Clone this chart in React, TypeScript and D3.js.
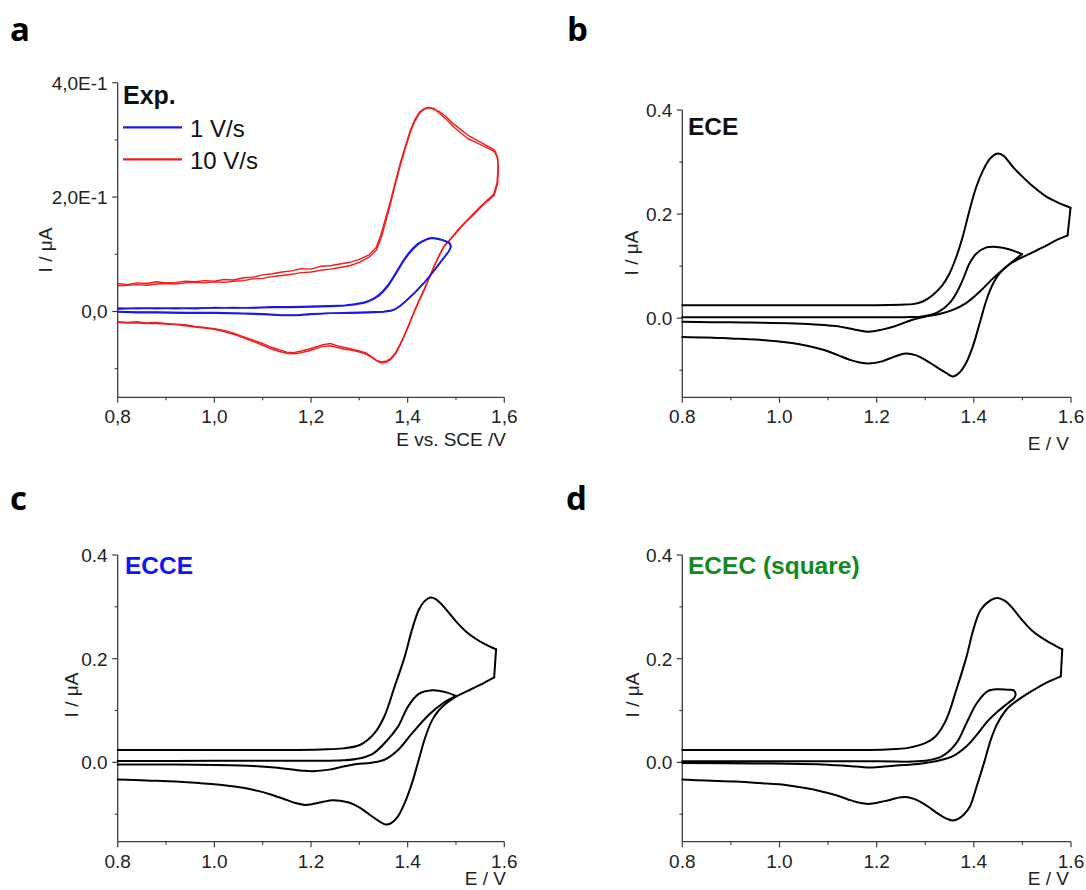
import React, { useEffect, useRef } from 'react';
import * as d3 from 'd3';

type P = [number, number];

const xMajor = [0.8, 1.0, 1.2, 1.4, 1.6];
const xMinor = [0.9, 1.1, 1.3, 1.5];
const yMajor = [0, 0.2, 0.4];
const yMinor = [-0.1, 0.1, 0.3];
const expXLabels = ['0,8', '1,0', '1,2', '1,4', '1,6'];
const expYLabels = ['0,0', '2,0E-1', '4,0E-1'];
const simXLabels = ['0.8', '1.0', '1.2', '1.4', '1.6'];
const simYLabels = ['0.0', '0.2', '0.4'];
const legendNames = ['1 V/s', '10 V/s'];

// ---------- panel a: experiment ----------
const red10a: P[] = [
  [0.80,0.049],[0.82,0.047],[0.84,0.050],[0.86,0.049],[0.88,0.052],[0.90,0.050],[0.92,0.051],[0.94,0.053],[0.96,0.052],[0.98,0.054],
  [1.00,0.053],[1.02,0.056],[1.04,0.055],[1.06,0.059],[1.08,0.060],[1.10,0.064],[1.12,0.066],[1.14,0.069],[1.16,0.071],[1.18,0.075],
  [1.20,0.074],[1.22,0.079],[1.24,0.080],[1.26,0.083],[1.28,0.086],[1.30,0.091],[1.32,0.099],[1.335,0.112],[1.345,0.135],[1.355,0.165],
  [1.365,0.195],[1.375,0.228],[1.385,0.260],[1.395,0.288],[1.405,0.315],[1.415,0.336],[1.425,0.349],[1.435,0.355],[1.445,0.357],[1.455,0.353],
  [1.465,0.350],[1.48,0.340],[1.495,0.328],[1.51,0.318],[1.525,0.308],[1.54,0.301],[1.555,0.294],[1.57,0.287],[1.58,0.282],[1.586,0.270],
  [1.587,0.250],[1.585,0.225],[1.578,0.205],[1.565,0.195],[1.55,0.183],[1.535,0.170],[1.52,0.157],[1.505,0.144],[1.49,0.128],[1.475,0.114],
  [1.465,0.098],[1.455,0.080],[1.445,0.060],[1.435,0.040],[1.425,0.022],[1.415,0.003],[1.405,-0.018],[1.395,-0.038],[1.385,-0.056],[1.375,-0.072],
  [1.365,-0.082],[1.355,-0.087],[1.345,-0.088],[1.335,-0.085],[1.325,-0.079],[1.315,-0.073],[1.30,-0.069],[1.285,-0.066],[1.27,-0.063],[1.255,-0.060],
  [1.24,-0.056],[1.225,-0.058],[1.21,-0.062],[1.195,-0.066],[1.18,-0.069],[1.165,-0.072],[1.15,-0.071],[1.135,-0.067],[1.12,-0.063],[1.10,-0.056],
  [1.08,-0.050],[1.06,-0.044],[1.04,-0.038],[1.02,-0.033],[1.00,-0.030],[0.98,-0.028],[0.96,-0.026],[0.94,-0.023],[0.92,-0.022],[0.90,-0.021],
  [0.88,-0.019],[0.86,-0.020],[0.84,-0.018],[0.82,-0.019],[0.80,-0.018],
];
const red10b: P[] = [
  [0.80,0.045],[0.82,0.046],[0.84,0.047],[0.86,0.046],[0.88,0.048],[0.90,0.049],[0.92,0.048],[0.94,0.050],[0.96,0.051],[0.98,0.050],
  [1.00,0.052],[1.02,0.051],[1.04,0.053],[1.06,0.054],[1.08,0.057],[1.10,0.058],[1.12,0.061],[1.14,0.063],[1.16,0.065],[1.18,0.068],
  [1.20,0.069],[1.22,0.072],[1.24,0.074],[1.26,0.077],[1.28,0.080],[1.30,0.086],[1.32,0.095],[1.335,0.107],[1.345,0.128],[1.355,0.158],
  [1.365,0.190],[1.375,0.224],[1.385,0.256],[1.395,0.285],[1.405,0.312],[1.415,0.333],[1.425,0.347],[1.435,0.354],[1.445,0.356],[1.455,0.355],
  [1.465,0.347],[1.48,0.336],[1.495,0.323],[1.51,0.312],[1.525,0.302],[1.54,0.296],[1.555,0.290],[1.57,0.284],[1.58,0.279],[1.586,0.268],
  [1.588,0.248],[1.586,0.223],[1.579,0.203],[1.565,0.193],[1.55,0.181],[1.535,0.168],[1.52,0.156],[1.505,0.142],[1.49,0.127],[1.475,0.113],
  [1.465,0.097],[1.455,0.079],[1.445,0.059],[1.435,0.039],[1.425,0.021],[1.415,0.002],[1.405,-0.019],[1.395,-0.039],[1.385,-0.058],[1.375,-0.074],
  [1.365,-0.084],[1.355,-0.089],[1.345,-0.090],[1.335,-0.086],[1.325,-0.080],[1.315,-0.075],[1.30,-0.071],[1.285,-0.068],[1.27,-0.066],[1.255,-0.063],
  [1.24,-0.060],[1.225,-0.061],[1.21,-0.065],[1.195,-0.069],[1.18,-0.072],[1.165,-0.074],[1.15,-0.073],[1.135,-0.070],[1.12,-0.066],[1.10,-0.059],
  [1.08,-0.052],[1.06,-0.046],[1.04,-0.040],[1.02,-0.035],[1.00,-0.031],[0.98,-0.029],[0.96,-0.027],[0.94,-0.025],[0.92,-0.023],[0.90,-0.022],
  [0.88,-0.021],[0.86,-0.021],[0.84,-0.020],[0.82,-0.020],[0.80,-0.019],
];
const blue1a: P[] = [
  [0.80,0.006],[0.84,0.005],[0.88,0.006],[0.92,0.005],[0.96,0.006],[1.00,0.006],[1.04,0.007],[1.08,0.006],[1.12,0.007],[1.16,0.007],
  [1.20,0.008],[1.24,0.009],[1.27,0.010],[1.29,0.012],[1.31,0.015],[1.32,0.018],[1.33,0.022],[1.34,0.027],[1.35,0.035],[1.36,0.045],
  [1.37,0.058],[1.38,0.072],[1.39,0.086],[1.40,0.098],[1.41,0.108],[1.42,0.116],[1.43,0.122],[1.44,0.126],[1.45,0.128],[1.46,0.127],
  [1.47,0.125],[1.48,0.122],[1.487,0.119],[1.489,0.113],[1.485,0.105],[1.475,0.094],[1.465,0.083],[1.455,0.072],[1.445,0.061],[1.435,0.051],
  [1.425,0.042],[1.415,0.033],[1.405,0.025],[1.395,0.017],[1.385,0.010],[1.375,0.004],[1.365,0.001],[1.35,-0.001],[1.32,-0.002],[1.28,-0.003],
  [1.24,-0.003],[1.20,-0.005],[1.17,-0.007],[1.14,-0.007],[1.10,-0.005],[1.06,-0.004],[1.00,-0.003],[0.94,-0.003],[0.88,-0.002],[0.84,-0.002],[0.80,-0.001],
];
const blue1b: P[] = [
  [0.80,0.004],[0.84,0.006],[0.88,0.005],[0.92,0.006],[0.96,0.005],[1.00,0.007],[1.04,0.006],[1.08,0.007],[1.12,0.008],[1.16,0.008],
  [1.20,0.009],[1.24,0.010],[1.27,0.011],[1.29,0.013],[1.31,0.016],[1.32,0.019],[1.33,0.023],[1.34,0.029],[1.35,0.037],[1.36,0.047],
  [1.37,0.060],[1.38,0.074],[1.39,0.088],[1.40,0.100],[1.41,0.110],[1.42,0.118],[1.43,0.123],[1.44,0.127],[1.45,0.129],[1.46,0.128],
  [1.47,0.126],[1.48,0.123],[1.487,0.120],[1.490,0.114],[1.486,0.106],[1.476,0.095],[1.466,0.084],[1.456,0.073],[1.446,0.062],[1.436,0.052],
  [1.426,0.043],[1.416,0.034],[1.406,0.026],[1.396,0.018],[1.386,0.011],[1.376,0.005],[1.366,0.002],[1.35,0.000],[1.32,-0.001],[1.28,-0.002],
  [1.24,-0.003],[1.20,-0.004],[1.17,-0.006],[1.14,-0.006],[1.10,-0.004],[1.06,-0.003],[1.00,-0.002],[0.94,-0.002],[0.88,-0.001],[0.84,-0.001],[0.80,0.000],
];

// ---------- panel b: ECE simulation ----------
const eceFastFwd: P[] = [
  [0.80,0.025],[0.90,0.025],[1.00,0.025],[1.10,0.025],[1.20,0.025],[1.25,0.026],[1.275,0.027],[1.295,0.032],[1.315,0.044],[1.335,0.063],
  [1.35,0.086],[1.364,0.118],[1.377,0.156],[1.391,0.207],[1.405,0.252],[1.419,0.284],[1.433,0.306],[1.447,0.316],[1.46,0.313],[1.481,0.290],
  [1.50,0.272],[1.516,0.258],[1.533,0.245],[1.55,0.233],[1.565,0.226],[1.578,0.220],[1.592,0.215],[1.599,0.212],
];
const eceFastRev: P[] = [
  [1.593,0.159],[1.57,0.150],[1.55,0.140],[1.533,0.132],[1.516,0.124],[1.495,0.115],[1.474,0.104],[1.453,0.086],[1.44,0.067],[1.426,0.035],
  [1.412,-0.010],[1.398,-0.054],[1.384,-0.086],[1.37,-0.105],[1.357,-0.112],[1.343,-0.105],[1.322,-0.093],[1.30,-0.080],[1.28,-0.071],[1.26,-0.068],
  [1.239,-0.073],[1.211,-0.083],[1.184,-0.087],[1.165,-0.085],[1.145,-0.080],[1.12,-0.071],[1.095,-0.062],[1.066,-0.055],[1.035,-0.049],[1.00,-0.045],
  [0.95,-0.041],[0.90,-0.039],[0.85,-0.037],[0.80,-0.036],
];
const eceSlowFwd: P[] = [
  [0.80,0.002],[1.00,0.002],[1.20,0.002],[1.26,0.002],[1.29,0.003],[1.31,0.006],[1.329,0.013],[1.35,0.029],[1.364,0.048],[1.377,0.073],
  [1.391,0.105],[1.405,0.124],[1.426,0.136],[1.447,0.137],[1.474,0.132],[1.499,0.123],
];
const eceSlowRev: P[] = [
  [1.499,0.123],[1.467,0.099],[1.44,0.077],[1.412,0.051],[1.384,0.029],[1.357,0.016],[1.329,0.008],[1.30,0.003],[1.274,-0.003],[1.239,-0.015],
  [1.211,-0.022],[1.184,-0.026],[1.156,-0.022],[1.115,-0.015],[1.032,-0.010],[0.90,-0.008],[0.80,-0.007],
];

// ---------- panel c: ECCE simulation ----------
const ecceFastFwd: P[] = [
  [0.80,0.024],[1.00,0.024],[1.15,0.024],[1.22,0.025],[1.267,0.027],[1.302,0.034],[1.331,0.056],[1.352,0.089],[1.373,0.146],[1.394,0.204],
  [1.409,0.256],[1.423,0.294],[1.435,0.311],[1.447,0.318],[1.458,0.315],[1.47,0.305],[1.485,0.289],[1.50,0.272],[1.52,0.253],[1.54,0.239],
  [1.56,0.228],[1.583,0.218],
];
const ecceFastRev: P[] = [
  [1.579,0.164],[1.551,0.150],[1.522,0.137],[1.50,0.127],[1.48,0.114],[1.465,0.101],[1.451,0.082],[1.437,0.050],[1.423,0.005],[1.409,-0.040],
  [1.394,-0.078],[1.38,-0.104],[1.366,-0.117],[1.355,-0.120],[1.34,-0.113],[1.32,-0.100],[1.30,-0.087],[1.28,-0.078],[1.26,-0.074],[1.245,-0.073],
  [1.225,-0.076],[1.205,-0.080],[1.188,-0.082],[1.17,-0.079],[1.145,-0.071],[1.12,-0.063],[1.09,-0.055],[1.06,-0.049],[1.02,-0.044],[0.97,-0.040],
  [0.92,-0.037],[0.86,-0.035],[0.80,-0.033],
];
const ecceSlowFwd: P[] = [
  [0.80,0.0025],[1.00,0.003],[1.20,0.003],[1.267,0.004],[1.302,0.008],[1.33,0.018],[1.359,0.044],[1.38,0.069],[1.401,0.108],[1.423,0.132],
  [1.451,0.139],[1.48,0.135],[1.50,0.128],
];
const ecceSlowRev: P[] = [
  [1.50,0.128],[1.473,0.114],[1.444,0.092],[1.409,0.056],[1.38,0.024],[1.352,0.005],[1.323,-0.001],[1.295,-0.003],[1.267,-0.008],[1.238,-0.014],
  [1.203,-0.017],[1.182,-0.016],[1.125,-0.010],[1.054,-0.006],[0.90,-0.004],[0.80,-0.004],
];

// ---------- panel d: ECEC (square) simulation ----------
const ececFastFwd: P[] = [
  [0.80,0.024],[1.00,0.024],[1.15,0.024],[1.22,0.025],[1.265,0.028],[1.30,0.037],[1.321,0.050],[1.343,0.082],[1.364,0.140],[1.385,0.204],
  [1.399,0.256],[1.414,0.294],[1.435,0.313],[1.449,0.317],[1.465,0.311],[1.48,0.297],[1.50,0.274],[1.52,0.254],[1.54,0.240],[1.56,0.229],[1.582,0.218],
];
const ececFastRev: P[] = [
  [1.579,0.166],[1.548,0.153],[1.513,0.134],[1.492,0.121],[1.47,0.105],[1.449,0.076],[1.435,0.044],[1.421,-0.001],[1.406,-0.046],[1.392,-0.085],
  [1.38,-0.100],[1.368,-0.109],[1.357,-0.112],[1.345,-0.109],[1.335,-0.104],[1.32,-0.095],[1.307,-0.086],[1.29,-0.076],[1.275,-0.070],[1.26,-0.067],
  [1.245,-0.068],[1.229,-0.072],[1.21,-0.076],[1.195,-0.079],[1.179,-0.080],[1.16,-0.077],[1.14,-0.071],[1.115,-0.063],[1.087,-0.056],[1.05,-0.049],
  [1.016,-0.044],[0.96,-0.040],[0.91,-0.037],[0.85,-0.035],[0.80,-0.033],
];
const ececSlowFwd: P[] = [
  [0.80,0.002],[1.00,0.002],[1.20,0.002],[1.30,0.003],[1.335,0.012],[1.364,0.037],[1.385,0.076],[1.406,0.114],[1.428,0.137],[1.449,0.141],
  [1.47,0.140],[1.482,0.139],[1.486,0.132],[1.483,0.124],
];
const ececSlowRev: P[] = [
  [1.47,0.114],[1.449,0.098],[1.428,0.079],[1.406,0.053],[1.385,0.031],[1.357,0.012],[1.321,0.002],[1.286,-0.003],[1.257,-0.005],[1.229,-0.007],
  [1.186,-0.010],[1.158,-0.008],[1.087,-0.004],[0.95,-0.002],[0.80,-0.001],
];

type Sim = { fwd: P[]; rev: P[]; round?: boolean };
type Panel = {
  letter: string; lx: number; ly: number;
  x0: number; x1: number; yTop: number; yBot: number; yMin: number;
  xLabels: string[]; yLabels: string[];
  xTitle: string; xtx: number; xty: number; ytx: number; yty: number;
  tag?: { text: string; color: string; x: number; y: number };
  sims?: Sim[];
};

const panels: Panel[] = [
  { letter: 'a', lx: 10, ly: 41, x0: 117.7, x1: 504.3, yTop: 82.7, yBot: 397.3, yMin: -0.15,
    xLabels: expXLabels, yLabels: expYLabels, xTitle: 'E vs. SCE /V', xtx: 506, xty: 446, ytx: 52, yty: 250 },
  { letter: 'b', lx: 567, ly: 41, x0: 682.3, x1: 1071, yTop: 110, yBot: 397.3, yMin: -0.152,
    xLabels: simXLabels, yLabels: simYLabels, xTitle: 'E / V', xtx: 1069, xty: 450, ytx: 638, yty: 253,
    tag: { text: 'ECE', color: '#111', x: 688, y: 135 },
    sims: [{ fwd: eceFastFwd, rev: eceFastRev }, { fwd: eceSlowFwd, rev: eceSlowRev }] },
  { letter: 'c', lx: 10, ly: 510, x0: 117.7, x1: 504.3, yTop: 555, yBot: 841.7, yMin: -0.153,
    xLabels: simXLabels, yLabels: simYLabels, xTitle: 'E / V', xtx: 506, xty: 885, ytx: 78, yty: 695,
    tag: { text: 'ECCE', color: '#1414f0', x: 125, y: 573.5 },
    sims: [{ fwd: ecceFastFwd, rev: ecceFastRev }, { fwd: ecceSlowFwd, rev: ecceSlowRev }] },
  { letter: 'd', lx: 566, ly: 510, x0: 682.3, x1: 1071, yTop: 555, yBot: 841.7, yMin: -0.153,
    xLabels: simXLabels, yLabels: simYLabels, xTitle: 'E / V', xtx: 1069, xty: 885, ytx: 639, yty: 695,
    tag: { text: 'ECEC (square)', color: '#0f8a1c', x: 688, y: 573.5 },
    sims: [{ fwd: ececFastFwd, rev: ececFastRev }, { fwd: ececSlowFwd, rev: ececSlowRev, round: true }] },
];

const AX = '#3c3c3c';
const TXT = '#222';
const SANS = '"Liberation Sans", Arial, sans-serif';

export default function App() {
  const ref = useRef<SVGSVGElement>(null);
  useEffect(() => {
    const svg = d3.select(ref.current);
    svg.selectAll('*').remove();
    svg.append('rect').attr('width', 1086).attr('height', 890).attr('fill', '#fff');

    panels.forEach((p) => {
      const g = svg.append('g');
      const x = d3.scaleLinear().domain([0.8, 1.6]).range([p.x0, p.x1]);
      const y = d3.scaleLinear().domain([p.yMin, 0.4]).range([p.yBot, p.yTop]);

      g.append('text').attr('x', p.lx).attr('y', p.ly).text(p.letter)
        .attr('font-family', '"Open Sans", sans-serif').attr('font-weight', 700)
        .attr('font-size', 33).attr('fill', '#000');

      g.append('line').attr('x1', p.x0).attr('x2', p.x1).attr('y1', p.yBot).attr('y2', p.yBot)
        .attr('stroke', AX).attr('stroke-width', 1.3);
      g.append('line').attr('x1', p.x0).attr('x2', p.x0).attr('y1', p.yTop).attr('y2', p.yBot)
        .attr('stroke', AX).attr('stroke-width', 1.3);
      xMajor.forEach((v, i) => {
        g.append('line').attr('x1', x(v)).attr('x2', x(v)).attr('y1', p.yBot).attr('y2', p.yBot + 5.5)
          .attr('stroke', AX).attr('stroke-width', 1.2);
        g.append('text').attr('x', x(v)).attr('y', p.yBot + 26).attr('text-anchor', 'middle')
          .attr('font-family', SANS).attr('font-size', 19).attr('fill', TXT).text(p.xLabels[i]);
      });
      xMinor.forEach((v) => {
        g.append('line').attr('x1', x(v)).attr('x2', x(v)).attr('y1', p.yBot).attr('y2', p.yBot + 3)
          .attr('stroke', AX).attr('stroke-width', 1.1);
      });
      yMajor.forEach((v, i) => {
        g.append('line').attr('x1', p.x0 - 5.5).attr('x2', p.x0).attr('y1', y(v)).attr('y2', y(v))
          .attr('stroke', AX).attr('stroke-width', 1.2);
        g.append('text').attr('x', p.x0 - 10).attr('y', y(v)).attr('dy', '0.36em').attr('text-anchor', 'end')
          .attr('font-family', SANS).attr('font-size', 19).attr('fill', TXT).text(p.yLabels[i]);
      });
      yMinor.forEach((v) => {
        g.append('line').attr('x1', p.x0 - 3).attr('x2', p.x0).attr('y1', y(v)).attr('y2', y(v))
          .attr('stroke', AX).attr('stroke-width', 1.1);
      });

      g.append('text').attr('x', p.xtx).attr('y', p.xty).attr('text-anchor', 'end')
        .attr('font-family', SANS).attr('font-size', 19).attr('fill', TXT).text(p.xTitle);
      g.append('text').attr('transform', `translate(${p.ytx},${p.yty}) rotate(-90)`).attr('text-anchor', 'middle')
        .attr('font-family', SANS).attr('font-size', 19).attr('fill', TXT).text('I / μA');

      if (p.tag) {
        g.append('text').attr('x', p.tag.x).attr('y', p.tag.y).text(p.tag.text)
          .attr('font-family', SANS).attr('font-weight', 700).attr('font-size', 24.5).attr('fill', p.tag.color);
      }

      const smooth = d3.line<P>().x((d) => x(d[0])).y((d) => y(d[1])).curve(d3.curveCatmullRom.alpha(0.5));
      const straight = d3.line<P>().x((d) => x(d[0])).y((d) => y(d[1]));

      if (p.sims) {
        p.sims.forEach((s) => {
          const attrs = (sel: any) => sel.attr('fill', 'none').attr('stroke', '#000').attr('stroke-width', 2)
            .attr('stroke-linejoin', 'round').attr('stroke-linecap', 'round');
          if (s.round) {
            attrs(g.append('path').attr('d', smooth([...s.fwd, ...s.rev])));
          } else {
            attrs(g.append('path').attr('d', smooth(s.fwd)));
            attrs(g.append('path').attr('d', straight([s.fwd[s.fwd.length - 1], s.rev[0]])));
            attrs(g.append('path').attr('d', smooth(s.rev)));
          }
        });
      } else {
        const series: { d: P[]; c: string; w: number }[] = [
          { d: red10a, c: '#f21c1c', w: 1.4 },
          { d: red10b, c: '#f21c1c', w: 1.4 },
          { d: blue1a, c: '#1a1ae6', w: 1.6 },
          { d: blue1b, c: '#1a1ae6', w: 1.6 },
        ];
        series.forEach((s) => {
          g.append('path').attr('d', straight(s.d)).attr('fill', 'none').attr('stroke', s.c)
            .attr('stroke-width', s.w).attr('stroke-linejoin', 'round');
        });
        g.append('text').attr('x', 123).attr('y', 104).text('Exp.')
          .attr('font-family', SANS).attr('font-weight', 700).attr('font-size', 25).attr('fill', '#111');
        const lc = ['#1a1ae6', '#f21c1c'];
        const ly = [127.3, 159.3];
        legendNames.forEach((nm, i) => {
          g.append('line').attr('x1', 123).attr('x2', 182).attr('y1', ly[i]).attr('y2', ly[i])
            .attr('stroke', lc[i]).attr('stroke-width', 2.2);
          g.append('text').attr('x', 190).attr('y', ly[i] + 9.5).text(nm)
            .attr('font-family', SANS).attr('font-size', 24).attr('fill', '#111');
        });
      }
    });
  }, []);
  return (
    <svg ref={ref} width={1086} height={890}
      style={{ position: 'absolute', left: 0, top: 0, display: 'block', background: '#fff' }} />
  );
}
